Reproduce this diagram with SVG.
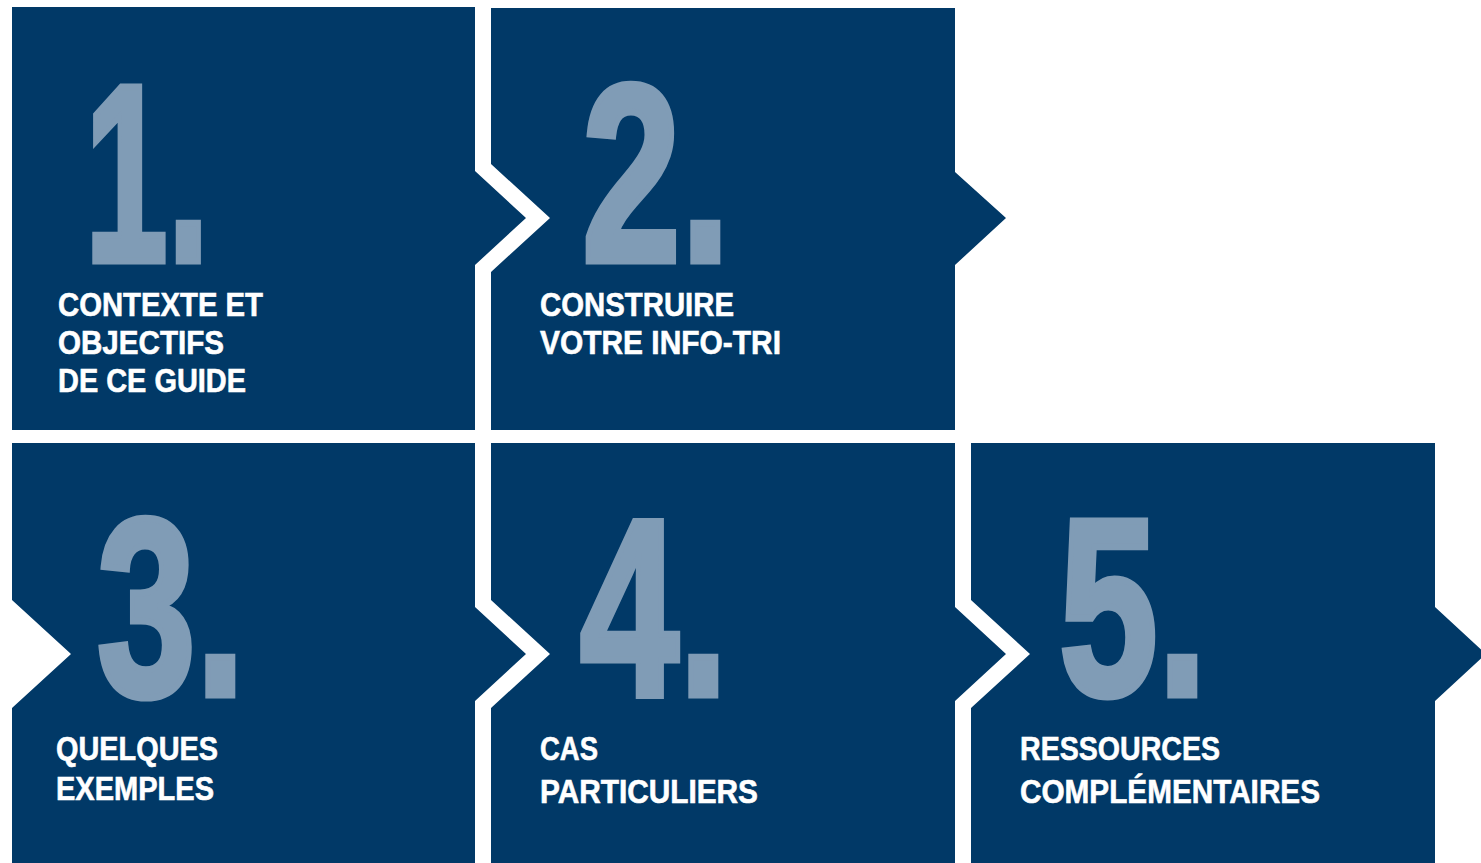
<svg xmlns="http://www.w3.org/2000/svg" width="1481" height="863" viewBox="0 0 1481 863">
<style>
.box{fill:#013967}
.num{fill:#809cb6;stroke:#809cb6;stroke-width:7;stroke-linejoin:miter;font-family:"Liberation Sans",Arial,sans-serif;font-weight:bold;font-size:252px}
.lbl{fill:#ffffff;stroke:#ffffff;stroke-width:0.6;font-family:"Liberation Sans",Arial,sans-serif;font-weight:bold;font-size:33px}
</style>
<rect width="1481" height="863" fill="#ffffff"/>
<g id="node1">
<polygon class="box" points="12,7 475,7 475,171 526,218 475,265 475,430 12,430"/>
<text class="num" x="85" y="261" textLength="124" lengthAdjust="spacingAndGlyphs">1.</text>
<text class="lbl" x="58" y="316" textLength="205" lengthAdjust="spacingAndGlyphs">CONTEXTE ET</text>
<text class="lbl" x="58" y="354" textLength="166" lengthAdjust="spacingAndGlyphs">OBJECTIFS</text>
<text class="lbl" x="58" y="392" textLength="188" lengthAdjust="spacingAndGlyphs">DE CE GUIDE</text>
</g>
<g id="node2">
<polygon class="box" points="491,8 955,8 955,172 1006,218 955,265 955,430 491,430 491,272 550,218 491,164"/>
<text class="num" x="582" y="261" textLength="148" lengthAdjust="spacingAndGlyphs">2.</text>
<text class="lbl" x="540" y="316" textLength="194" lengthAdjust="spacingAndGlyphs">CONSTRUIRE</text>
<text class="lbl" x="540" y="354" textLength="241" lengthAdjust="spacingAndGlyphs">VOTRE INFO-TRI</text>
</g>
<g id="node3">
<polygon class="box" points="12,443 475,443 475,607 526,654 475,701 475,863 12,863 12,708 71,654 12,600"/>
<text class="num" x="97" y="695" textLength="148" lengthAdjust="spacingAndGlyphs">3.</text>
<text class="lbl" x="56" y="760" textLength="162" lengthAdjust="spacingAndGlyphs">QUELQUES</text>
<text class="lbl" x="56" y="800" textLength="158" lengthAdjust="spacingAndGlyphs">EXEMPLES</text>
</g>
<g id="node4">
<polygon class="box" points="491,443 955,443 955,607 1006,654 955,701 955,863 491,863 491,708 550,654 491,600"/>
<text class="num" x="580" y="695" textLength="148" lengthAdjust="spacingAndGlyphs">4.</text>
<text class="lbl" x="540" y="760" textLength="58" lengthAdjust="spacingAndGlyphs">CAS</text>
<text class="lbl" x="540" y="803" textLength="218" lengthAdjust="spacingAndGlyphs">PARTICULIERS</text>
</g>
<g id="node5">
<polygon class="box" points="971,443 1435,443 1435,607 1486,654 1435,701 1435,863 971,863 971,708 1030,654 971,600"/>
<text class="num" x="1059" y="695" textLength="148" lengthAdjust="spacingAndGlyphs">5.</text>
<text class="lbl" x="1020" y="760" textLength="200" lengthAdjust="spacingAndGlyphs">RESSOURCES</text>
<text class="lbl" x="1020" y="803" textLength="300" lengthAdjust="spacingAndGlyphs">COMPLÉMENTAIRES</text>
</g>
<g id="connectors"></g>
</svg>
